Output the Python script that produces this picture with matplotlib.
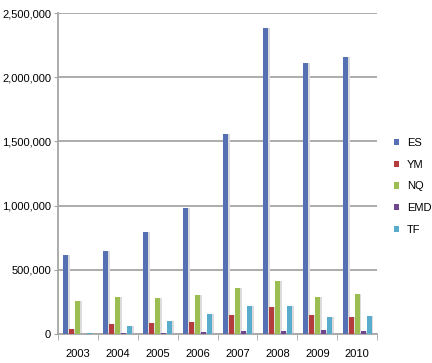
import matplotlib.pyplot as plt
import numpy as np
from matplotlib.ticker import FuncFormatter

plt.rcParams['font.family'] = ['Liberation Sans', 'DejaVu Sans']

years = ["2003", "2004", "2005", "2006", "2007", "2008", "2009", "2010"]
series = ["ES", "YM", "NQ", "EMD", "TF"]
es = [615000, 646000, 794000, 981000, 1558000, 2383000, 2110000, 2157000]
ym = [36000, 78000, 88000, 96000, 148000, 208000, 145000, 130000]
nq = [257000, 291000, 278000, 304000, 356000, 410000, 291000, 309000]
emd = [3000, 10000, 10000, 18000, 23000, 23000, 31000, 23000]
tf = [8000, 62000, 101000, 156000, 218000, 218000, 130000, 140000]
values = [es, ym, nq, emd, tf]
colors = ["#5670b4", "#b43c3c", "#9cbd52", "#70468f", "#5aaccd"]

fig = plt.figure(figsize=(4.32, 3.63), dpi=100)
ax = fig.add_axes([0.134, 0.08, 0.739, 0.884])

x = np.arange(len(years))
w = 0.125
pitch = 0.15
for i, (name, vals) in enumerate(zip(series, values)):
    pos = x + (i - 2) * pitch
    # soft shadow
    ax.bar(pos + 0.045, vals, w, color="#dcdcdc", zorder=2)
    ax.bar(pos, vals, w, color=colors[i], label=name, zorder=3)

ax.set_xlim(-0.5, 7.5)
ax.set_ylim(0, 2500000)
ax.set_yticks(np.arange(0, 2500001, 500000))
ax.yaxis.set_major_formatter(FuncFormatter(lambda v, p: f"{int(v):,}"))
ax.set_xticks(x)
ax.set_xticklabels(years)
ax.set_xticks(np.arange(-0.5, 8, 1), minor=True)

ax.grid(axis="y", color="#a6a6a6", linewidth=1.3, zorder=0)
for s in ["top", "right"]:
    ax.spines[s].set_visible(False)
for s in ["left", "bottom"]:
    ax.spines[s].set_color("#a6a6a6")
    ax.spines[s].set_linewidth(1.3)

ax.tick_params(axis="y", length=3, color="#a6a6a6", labelsize=8, pad=2)
ax.tick_params(axis="x", which="major", length=0, labelsize=8, pad=11)
ax.tick_params(axis="x", which="minor", length=4, color="#a6a6a6")

ax.legend(loc="center left", bbox_to_anchor=(1.02, 0.46), frameon=False,
          fontsize=8, handlelength=0.5, handleheight=0.5, labelspacing=1.05,
          handletextpad=0.7)

fig.savefig("out.png", dpi=100)
